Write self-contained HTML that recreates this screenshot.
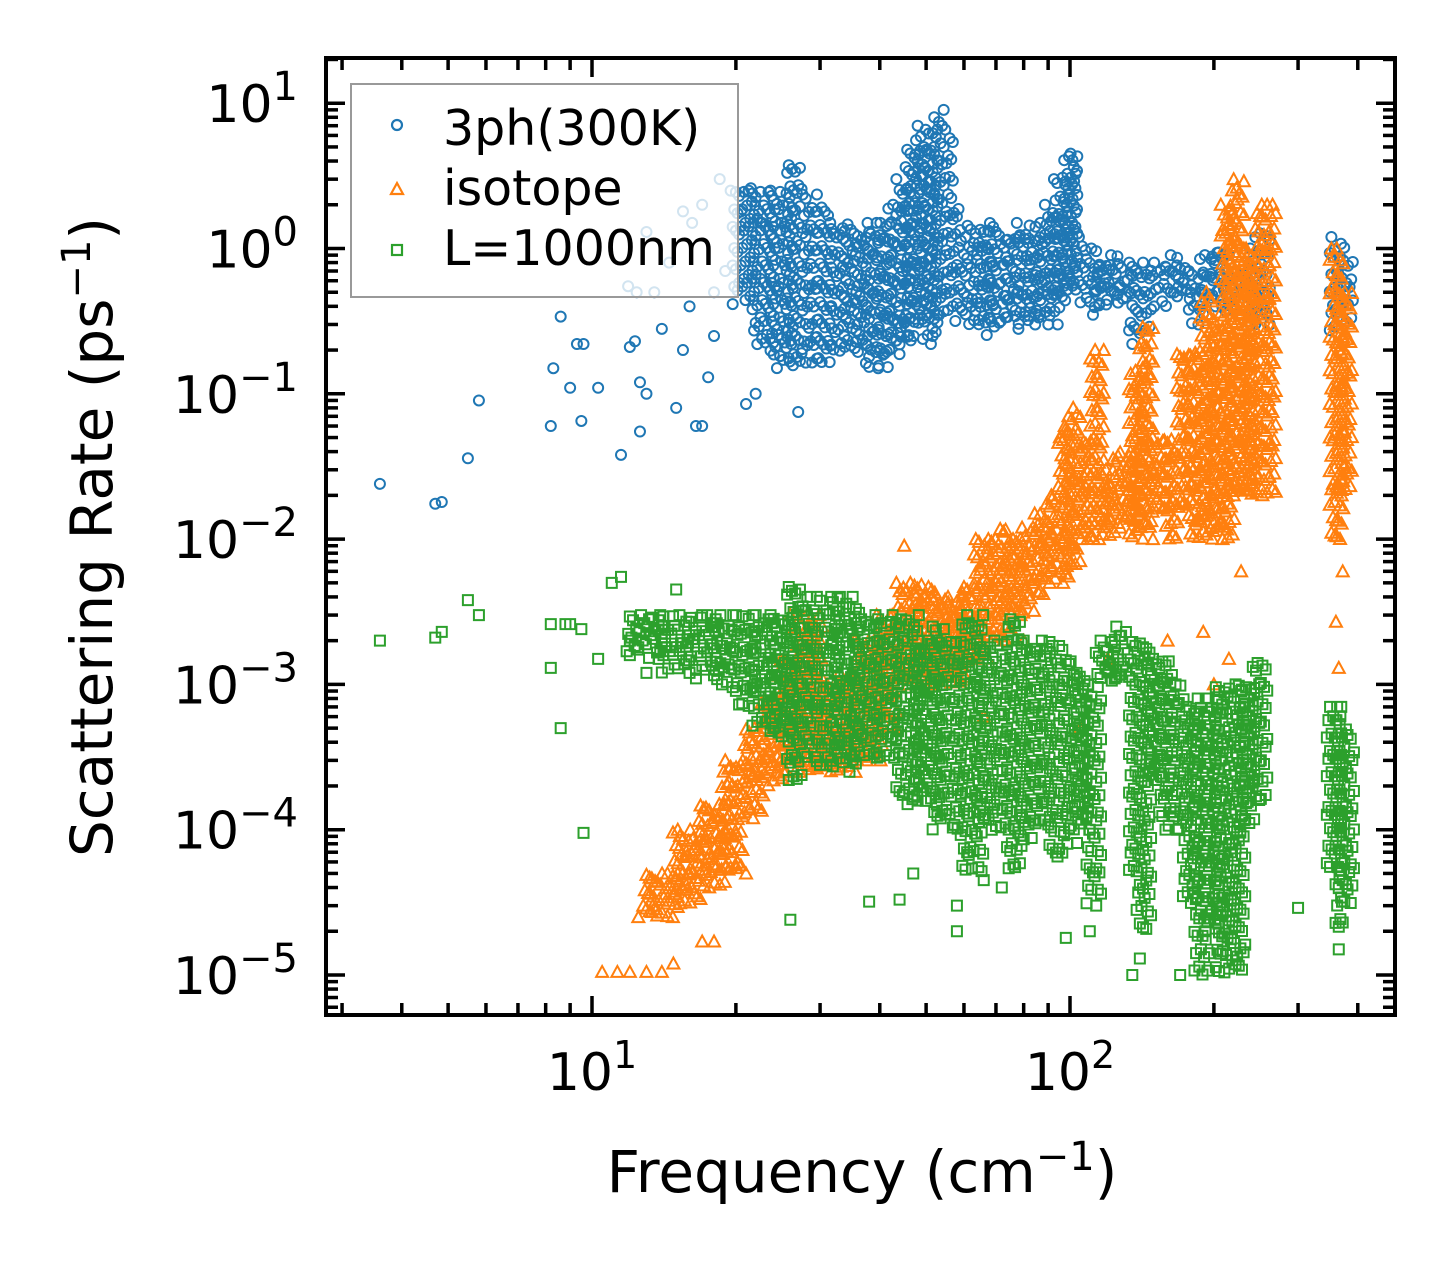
<!DOCTYPE html>
<html><head><meta charset="utf-8"><style>
html,body{margin:0;padding:0;background:#fff}
svg{display:block;font-family:"DejaVu Sans","Liberation Sans",sans-serif}
</style></head><body>
<svg id="chart" width="1455" height="1265" viewBox="0 0 1455 1265" xmlns="http://www.w3.org/2000/svg">
<rect width="1455" height="1265" fill="#fff"/>
<g id="marks"></g>
<g id="axes"></g>
<g id="legend">
<rect x="351" y="84" width="387" height="213" fill="#fff" fill-opacity="0.8" stroke="#999" stroke-width="2"/>
<circle cx="397" cy="125" r="5" fill="none" stroke="#1f77b4" stroke-width="2.2"/>
<text x="443" y="145" font-size="49">3ph(300K)</text>
<path d="M397,183 L403,194 L391,194 Z" fill="none" stroke="#ff7f0e" stroke-width="2.2"/>
<text x="443" y="205" font-size="49">isotope</text>
<rect x="392" y="245" width="10" height="10" fill="none" stroke="#2ca02c" stroke-width="2.2"/>
<text x="443" y="265" font-size="49">L=1000nm</text>
</g>
<text x="862" y="1192" font-size="58" text-anchor="middle">Frequency (cm<tspan dy="-22" font-size="40">−1</tspan><tspan dy="22">)</tspan></text>
<text transform="translate(112,537) rotate(-90)" font-size="58" text-anchor="middle">Scattering Rate (ps<tspan dy="-22" font-size="40">−1</tspan><tspan dy="22">)</tspan></text>
</svg>
<script>
// axis geometry
const L=326,R=1395,T=58,B=1015;
const X=f=>592+478*(Math.log10(f)-1);
const Y=v=>975-145.3*(Math.log10(v)+5);

// 3ph sparse points
const bluePtsF=[3.6,4.7,4.85,5.5,5.8,8.2,8.3,8.6,9,9.3,9.5,9.6,10.3,11.5,12,12.3,12.6,12.6,13,13.5,14,15,15.5,16.5,17,17.5,18,13,14.5,15.5,16.2,17,18.5,19.5,20.5,21.5,22.5,11.9,12.4,16,18,19,21,22,27];
const bluePtsV=[0.024,0.0175,0.018,0.036,0.09,0.06,0.15,0.34,0.11,0.22,0.065,0.22,0.11,0.038,0.21,0.23,0.055,0.12,0.1,0.5,0.28,0.08,0.2,0.06,0.06,0.13,0.5,1.3,0.8,1.8,1.5,2.0,3.0,2.5,1.8,2.6,1.5,0.55,0.5,0.4,0.25,0.7,0.085,0.1,0.075];
// 3ph dense bands
const blueBandF=[20,22,24,26,28,30,32,34,36,38,40,42,44,46,48,50,52,54,56,58,60,62,65,68,70,74,78,82,86,90,94,98,102,106,110,115,120,128,135,140,150,160,170,180,190,200,210,225,240,248,355,370];
const blueBandLo=[0.4,0.2,0.15,0.15,0.15,0.15,0.18,0.2,0.18,0.15,0.15,0.18,0.2,0.25,0.3,0.22,0.25,0.3,0.35,0.3,0.3,0.28,0.3,0.25,0.28,0.3,0.28,0.3,0.3,0.3,0.4,0.5,0.5,0.4,0.35,0.4,0.4,0.4,0.2,0.25,0.4,0.4,0.45,0.3,0.4,0.4,0.35,0.35,0.25,0.3,0.25,0.3];
const blueBandHi=[2.5,2.5,2.5,4,2.4,2,1.5,1.5,1.3,1.5,1.5,2,3,5,7,5,8,9,6,2,1.2,1.5,1.3,1.6,1.3,1.2,1.5,1.3,1.5,2,3,4.5,4.5,1.2,1,0.8,0.9,0.8,0.8,0.8,0.8,0.9,0.8,0.7,0.9,1,0.9,0.7,1,1.3,1.2,0.9];

// isotope sparse points
const orPtsF=[10.5,11.3,12,12.5,13,13.4,14,14.8,15.5,16,17,18,19,21,26,45,66,80,105,120,160,190,200,215,228,360,365,372];
const orPtsV=[1.05e-5,1.05e-5,1.05e-5,2.5e-5,1.05e-5,3e-5,1.05e-5,1.2e-5,4e-5,5e-5,1.7e-5,1.7e-5,1e-4,5e-5,3e-3,9e-3,6e-4,2e-3,5e-4,1.5e-3,2e-3,2.3e-3,1e-3,1.5e-3,6e-3,2.7e-3,1.3e-3,6e-3];
const orBandF=[13,15,17,19,21,23,25,27,30,33,36,40,44,48,52,56,60,64,68,72,76,80,85,90,96,100,106,112,118,125,135,142,150,160,170,180,190,200,210,220,230,240,248,355,370];
const orBandLo=[2.5e-5,3e-5,4e-5,5e-5,1.2e-4,2e-4,2.5e-4,2.5e-4,2.5e-4,2.5e-4,3e-4,5e-4,1e-3,1e-3,1e-3,1e-3,1.5e-3,1.5e-3,2e-3,2e-3,3e-3,3e-3,4e-3,5e-3,5e-3,6e-3,1e-2,1e-2,1e-2,1.2e-2,1e-2,1e-2,1.5e-2,1e-2,1.5e-2,1e-2,1e-2,1e-2,1e-2,2e-2,2e-2,2e-2,2e-2,1e-2,2e-2];
const orBandHi=[5e-5,1e-4,1.5e-4,3e-4,5e-4,8e-4,1.5e-3,3e-3,1e-3,1.2e-3,2e-3,3e-3,5e-3,5e-3,4e-3,4e-3,5e-3,1e-2,1e-2,1.2e-2,1e-2,1.2e-2,1.5e-2,2e-2,6e-2,8e-2,5e-2,0.2,0.03,0.04,0.15,0.3,0.05,0.05,0.2,0.2,0.5,0.3,2,3,1,0.8,2,1,0.5];

// boundary sparse points
const grPtsF=[3.6,4.7,4.85,5.5,5.8,8.2,8.2,8.6,8.8,9,9.5,9.6,10.3,11,11.5,12,12.5,16.5,26,38,44,47,58,58,66,72,98,110,135,140,170,300,365,372,13,14,15,17,19];
const grPtsV=[2e-3,2.1e-3,2.3e-3,3.8e-3,3e-3,2.6e-3,1.3e-3,5e-4,2.6e-3,2.6e-3,2.4e-3,9.5e-5,1.5e-3,5e-3,5.5e-3,2e-3,1.8e-3,1.1e-3,2.4e-5,3.2e-5,3.3e-5,5e-5,2e-5,3e-5,4.5e-5,4e-5,1.8e-5,2e-5,1e-5,1.3e-5,1e-5,2.9e-5,1.5e-5,2.3e-5,1.2e-3,2.5e-3,4.5e-3,3e-3,1.5e-3];
const grBandF=[12,14,16,18,20,22,24,26,28,30,33,36,40,44,48,52,56,60,65,70,75,80,86,92,98,104,110,115,125,135,140,148,156,165,175,185,195,205,212,230,245,350,365,372];
const grBandLo=[1.5e-3,1.2e-3,1.2e-3,1e-3,7e-4,5e-4,4e-4,2e-4,3e-4,2.5e-4,2.5e-4,3e-4,3e-4,1.5e-4,1.5e-4,1e-4,1e-4,5e-5,1e-4,1e-4,5e-5,8e-5,1e-4,6e-5,8e-5,1e-4,3e-5,1e-3,1e-3,5e-5,2e-5,2e-4,1e-4,1e-4,3e-5,1e-5,2e-5,1e-5,1e-5,1e-4,1.5e-4,5e-5,2e-5,3e-5];
const grBandHi=[3e-3,3e-3,3e-3,3e-3,3e-3,3e-3,3e-3,5e-3,4e-3,4e-3,4e-3,3e-3,3e-3,3e-3,2e-3,2.5e-3,2e-3,3e-3,2e-3,2e-3,3e-3,2e-3,2e-3,2e-3,1.5e-3,1.2e-3,1e-3,2e-3,2.5e-3,2e-3,2e-3,1.5e-3,1.5e-3,1e-3,7e-4,8e-4,8e-4,1e-3,1e-3,1e-3,1.5e-3,7e-4,7e-4,5e-4];

const NS='http://www.w3.org/2000/svg';
const marks=document.getElementById('marks');
const axes=document.getElementById('axes');
const clip=document.createElementNS(NS,'clipPath');clip.setAttribute('id','pc');
const cr=document.createElementNS(NS,'rect');cr.setAttribute('x',L);cr.setAttribute('y',T);cr.setAttribute('width',R-L);cr.setAttribute('height',B-T);
clip.appendChild(cr);document.getElementById('chart').appendChild(clip);
marks.setAttribute('clip-path','url(#pc)');

function shapePath(kind,x,y){
  if(kind==='c') return `M${x-5},${y}a5,5 0 1,0 10,0a5,5 0 1,0 -10,0`;
  if(kind==='t') return `M${x},${y-6}L${x+6},${y+5}L${x-6},${y+5}Z`;
  return `M${x-5},${y-5}h10v10h-10Z`;
}
function series(name,kind,color,pf,pv,bf,blo,bhi,step){
  const g=document.createElementNS(NS,'g');
  
  
  let d='';
  for(let i=0;i<pf.length;i++) d+=shapePath(kind,X(pf[i]),Y(pv[i]));
  let n=0;
  for(let i=0;i<bf.length;i++){
    const x0=X(bf[i]);
    const x1=i<bf.length-1?Math.min(X(bf[i+1]),x0+ (bf[i+1]-bf[i]>50?14:999)):x0+10;
    const yTop=Y(bhi[i]),yBot=Y(blo[i]);
    let k=0;
    for(let x=x0;x<=x1;x+=step){
      for(let y=yTop+((k%2)*step/2);y<=yBot;y+=step){
        n++;
        const jx=((n*7)%5-2)*1.6, jy=((n*11)%7-3)*1.4;
        d+=shapePath(kind,x+jx,Math.min(yBot,Math.max(yTop,y+jy)));
      }
      k++;
    }
  }
  const p=document.createElementNS(NS,'path');
  p.setAttribute('d',d);p.setAttribute('fill','none');p.setAttribute('stroke',color);p.setAttribute('stroke-width','2');
  
  
  g.appendChild(p);marks.appendChild(g);
}
series('series-3ph','c','#1f77b4',bluePtsF,bluePtsV,blueBandF,blueBandLo,blueBandHi,8);
series('series-isotope','t','#ff7f0e',orPtsF,orPtsV,orBandF,orBandLo,orBandHi,7);
series('series-boundary','s','#2ca02c',grPtsF,grPtsV,grBandF,grBandLo,grBandHi,8);
document.getElementById('chart').appendChild(document.getElementById('legend'));

function line(x1,y1,x2,y2,w,name){
  const l=document.createElementNS(NS,'line');
  l.setAttribute('x1',x1);l.setAttribute('y1',y1);l.setAttribute('x2',x2);l.setAttribute('y2',y2);
  l.setAttribute('stroke','#000');l.setAttribute('stroke-width',w);
  
  
  axes.appendChild(l);
}
const xMajor=[10,100];
const xMajorLabels=['1','2'];
for(let e=0;e<3;e++)for(let m=1;m<10;m++){
  const f=m*Math.pow(10,e);const x=X(f);
  if(x<L||x>R)continue;
  const len=m===1?19:12;
  line(x,B,x,B-len,3.5,'x-tick');line(x,T,x,T+len,3.5,'x-tick-top');
}
xMajor.forEach((f,i)=>{
  const t=document.createElementNS(NS,'text');
  t.setAttribute('x',X(f));t.setAttribute('y',1090);t.setAttribute('font-size','52');t.setAttribute('text-anchor','middle');
  
  
  t.innerHTML='10<tspan dy="-22" font-size="38">'+xMajorLabels[i]+'</tspan>';
  axes.appendChild(t);
});
const yMajorExp=[1,0,-1,-2,-3,-4,-5];
const yMajorLabels=['1','0','−1','−2','−3','−4','−5'];
for(let e=-6;e<2;e++)for(let m=1;m<10;m++){
  const v=m*Math.pow(10,e);const y=Y(v);
  if(y<T||y>B)continue;
  const len=m===1?19:12;
  line(L,y,L+len,y,3.5,'y-tick');line(R,y,R-len,y,3.5,'y-tick-right');
}
yMajorExp.forEach((e,i)=>{
  const t=document.createElementNS(NS,'text');
  t.setAttribute('x',298);t.setAttribute('y',Y(Math.pow(10,e))+19);t.setAttribute('font-size','52');t.setAttribute('text-anchor','end');
  
  
  t.innerHTML='10<tspan dy="-22" font-size="40">'+yMajorLabels[i]+'</tspan>';
  axes.appendChild(t);
});
const frame=document.createElementNS(NS,'rect');
frame.setAttribute('x',L);frame.setAttribute('y',T);frame.setAttribute('width',R-L);frame.setAttribute('height',B-T);
frame.setAttribute('fill','none');frame.setAttribute('stroke','#000');frame.setAttribute('stroke-width','4');


axes.appendChild(frame);
</script>
</body></html>
